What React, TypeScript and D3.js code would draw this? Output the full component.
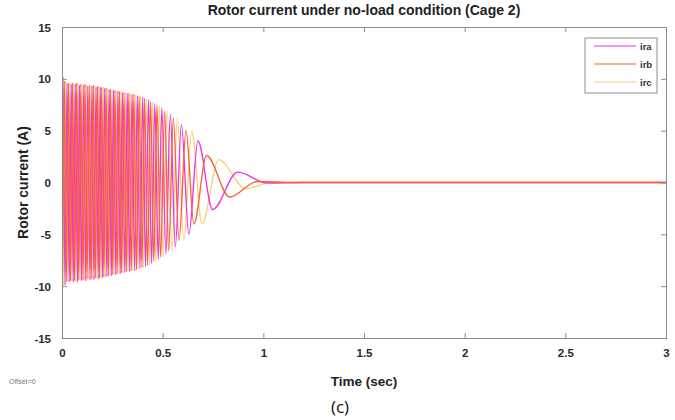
import React, { useEffect, useRef } from 'react';
import * as d3 from 'd3';

// time ticks (sec) and current ticks (A)
const timeTicks = [0, 0.5, 1, 1.5, 2, 2.5, 3];
const currentTicks = [-15, -10, -5, 0, 5, 10, 15];

const phaseNames = ['ira', 'irb', 'irc'];
const phaseColors = ['#ee34e4', '#f5633c', '#f6d27c'];

// extrema of each rotor phase current, [time (s), current (A)]
const iraPeaks: [number, number][] = [
  [0, 0], [0.005, 10.2], [0.015, -9.9], [0.025, 9.6], [0.036, -9.6], [0.046, 9.5], [0.056, -9.6],
  [0.066, 9.5], [0.077, -9.6], [0.087, 9.4], [0.097, -9.5], [0.108, 9.4], [0.118, -9.5], [0.128, 9.3],
  [0.139, -9.4], [0.149, 9.3], [0.159, -9.4], [0.169, 9.2], [0.18, -9.3], [0.19, 9.2], [0.201, -9.2],
  [0.212, 9.1], [0.223, -9.1], [0.234, 9.0], [0.245, -9.0], [0.256, 8.9], [0.267, -8.9], [0.278, 8.8],
  [0.289, -8.8], [0.3, 8.7], [0.312, -8.7], [0.324, 8.6], [0.336, -8.6], [0.348, 8.5], [0.361, -8.5],
  [0.374, 8.4], [0.387, -8.3], [0.401, 8.2], [0.415, -8.1], [0.43, 8.0], [0.445, -7.8], [0.461, 7.6],
  [0.478, -7.4], [0.496, 7.2], [0.516, -6.9], [0.538, 6.6], [0.563, -6.2], [0.593, 5.6], [0.63, -5.0],
  [0.675, 4.0], [0.748, -2.6], [0.872, 1.0], [1.02, -0.05], [1.2, 0], [3, 0]
];

const irbPeaks: [number, number][] = [
  [0, -8.7], [0.0015, -10.0], [0.0115, 9.8], [0.0215, -9.6], [0.0325, 9.6], [0.0425, -9.5], [0.0525, 9.6],
  [0.0625, -9.5], [0.0735, 9.6], [0.0835, -9.4], [0.0935, 9.5], [0.1045, -9.4], [0.1145, 9.5], [0.1245, -9.3],
  [0.1355, 9.4], [0.1455, -9.3], [0.1555, 9.4], [0.1655, -9.2], [0.1765, 9.3], [0.1865, -9.2], [0.197, 9.2],
  [0.208, -9.1], [0.219, 9.1], [0.23, -9.0], [0.241, 9.0], [0.252, -8.9], [0.263, 8.9], [0.274, -8.8],
  [0.285, 8.8], [0.296, -8.7], [0.308, 8.7], [0.32, -8.6], [0.332, 8.6], [0.344, -8.5], [0.357, 8.5],
  [0.37, -8.4], [0.383, 8.3], [0.397, -8.2], [0.41, 8.1], [0.425, -8.0], [0.44, 7.8], [0.456, -7.6],
  [0.472, 7.4], [0.49, -7.2], [0.51, 6.9], [0.53, -6.6], [0.553, 6.2], [0.581, -5.6], [0.616, 5.0],
  [0.655, -4.0], [0.718, 2.6], [0.832, -1.4], [0.97, 0.1], [1.15, 0], [3, 0]
];

const ircPeaks: [number, number][] = [
  [0, 8.7], [0.0085, -10.0], [0.0185, 9.8], [0.0285, -9.6], [0.0395, 9.6], [0.0495, -9.5], [0.0595, 9.6],
  [0.0695, -9.5], [0.0805, 9.6], [0.0905, -9.4], [0.1005, 9.5], [0.1115, -9.4], [0.1215, 9.5], [0.1315, -9.3],
  [0.1425, 9.4], [0.1525, -9.3], [0.1625, 9.4], [0.1725, -9.2], [0.1835, 9.3], [0.1935, -9.2], [0.205, 9.2],
  [0.216, -9.1], [0.227, 9.1], [0.238, -9.0], [0.249, 9.0], [0.26, -8.9], [0.271, 8.9], [0.282, -8.8],
  [0.293, 8.8], [0.304, -8.7], [0.316, 8.7], [0.328, -8.6], [0.34, 8.6], [0.352, -8.5], [0.365, 8.5],
  [0.378, -8.4], [0.391, 8.3], [0.405, -8.2], [0.42, 8.1], [0.435, -8.0], [0.45, 7.8], [0.466, -7.6],
  [0.484, 7.4], [0.502, -7.2], [0.522, 6.9], [0.546, -6.6], [0.573, 6.2], [0.605, -5.6], [0.644, 5.0],
  [0.695, -4.0], [0.778, 2.2], [0.912, -0.6], [1.05, 0.05], [1.2, 0], [3, 0]
];

const phaseSeries = [iraPeaks, irbPeaks, ircPeaks];
// drawing order: irc below, ira, irb on top
const drawOrder = [2, 0, 1];

const FONT = '"Liberation Sans", Arial, sans-serif';

const App: React.FC = () => {
  const svgRef = useRef<SVGSVGElement>(null);

  useEffect(() => {
    if (!svgRef.current) return;
    const svg = d3.select(svgRef.current);
    svg.selectAll('*').remove();

    const left = 62;
    const right = 666;
    const top = 27;
    const bottom = 338;

    const x = d3.scaleLinear().domain([0, 3]).range([left, right]);
    const y = d3.scaleLinear().domain([-15, 15]).range([bottom, top]);

    svg.append('rect').attr('width', 675).attr('height', 420).attr('fill', '#ffffff');

    svg
      .append('defs')
      .append('clipPath')
      .attr('id', 'plotClip')
      .append('rect')
      .attr('x', left)
      .attr('y', top)
      .attr('width', right - left)
      .attr('height', bottom - top);

    const line = d3
      .line<[number, number]>()
      .x((d) => x(d[0]))
      .y((d) => y(d[1]))
      .curve(d3.curveMonotoneX);

    const plot = svg.append('g').attr('clip-path', 'url(#plotClip)');
    drawOrder.forEach((i) => {
      plot
        .append('path')
        .attr('d', line(phaseSeries[i]) || '')
        .attr('fill', 'none')
        .attr('stroke', phaseColors[i])
        .attr('stroke-width', 1.35);
    });

    const axisColor = '#8c8c8c';
    const tickLen = 5;

    const xAxis = svg
      .append('g')
      .attr('transform', `translate(0, ${bottom})`)
      .call(d3.axisBottom(x).tickValues(timeTicks).tickSize(-tickLen).tickPadding(11).tickFormat((d) => String(d)));
    const yAxis = svg
      .append('g')
      .attr('transform', `translate(${left}, 0)`)
      .call(d3.axisLeft(y).tickValues(currentTicks).tickSize(-tickLen).tickPadding(11).tickFormat((d) => String(d)));
    const xTop = svg
      .append('g')
      .attr('transform', `translate(0, ${top})`)
      .call(d3.axisTop(x).tickValues(timeTicks).tickSize(-tickLen).tickFormat(() => ''));
    const yRight = svg
      .append('g')
      .attr('transform', `translate(${right}, 0)`)
      .call(d3.axisRight(y).tickValues(currentTicks).tickSize(-tickLen).tickFormat(() => ''));

    [xAxis, yAxis, xTop, yRight].forEach((g) => {
      g.select('.domain').attr('stroke', axisColor).attr('stroke-width', 1);
      g.selectAll('.tick line').attr('stroke', axisColor);
      g.selectAll('.tick text')
        .attr('fill', '#2a2a2a')
        .attr('font-family', FONT)
        .attr('font-weight', 'bold')
        .attr('font-size', '11.5px');
    });
    yAxis.selectAll('.tick text').attr('dy', '0.35em');

    svg
      .append('text')
      .attr('x', (left + right) / 2)
      .attr('y', 15)
      .attr('text-anchor', 'middle')
      .attr('font-family', FONT)
      .attr('font-weight', 'bold')
      .attr('font-size', '14px')
      .attr('fill', '#222')
      .text('Rotor current under no-load condition (Cage 2)');

    svg
      .append('text')
      .attr('transform', `translate(28, ${(top + bottom) / 2}) rotate(-90)`)
      .attr('text-anchor', 'middle')
      .attr('font-family', FONT)
      .attr('font-weight', 'bold')
      .attr('font-size', '14px')
      .attr('fill', '#222')
      .text('Rotor current (A)');

    svg
      .append('text')
      .attr('x', (left + right) / 2)
      .attr('y', 386)
      .attr('text-anchor', 'middle')
      .attr('font-family', FONT)
      .attr('font-weight', 'bold')
      .attr('font-size', '13.5px')
      .attr('fill', '#222')
      .text('Time (sec)');

    svg
      .append('text')
      .attr('x', 9)
      .attr('y', 384)
      .attr('font-family', FONT)
      .attr('font-size', '7px')
      .attr('fill', '#777')
      .text('Offset=0');

    svg
      .append('text')
      .attr('x', 340)
      .attr('y', 413)
      .attr('text-anchor', 'middle')
      .attr('font-family', '"Open Sans", "Noto Sans", sans-serif')
      .attr('font-size', '17px')
      .attr('fill', '#111')
      .text('(c)');

    // legend
    const legend = svg.append('g').attr('transform', 'translate(585, 38)');
    legend
      .append('rect')
      .attr('width', 72)
      .attr('height', 55)
      .attr('fill', '#fff')
      .attr('stroke', axisColor)
      .attr('stroke-width', 1);
    phaseNames.forEach((name, i) => {
      const row = legend.append('g').attr('transform', `translate(0, ${8 + i * 18})`);
      row
        .append('line')
        .attr('x1', 9)
        .attr('x2', 51)
        .attr('stroke', phaseColors[i])
        .attr('stroke-width', 1.2);
      row
        .append('text')
        .attr('x', 55)
        .attr('y', 3.5)
        .attr('font-family', FONT)
        .attr('font-weight', 'bold')
        .attr('font-size', '9.5px')
        .attr('fill', '#333')
        .text(name);
    });
  }, []);

  return (
    <svg
      ref={svgRef}
      width={675}
      height={420}
      style={{ position: 'absolute', left: 0, top: 0 }}
    />
  );
};

export default App;
